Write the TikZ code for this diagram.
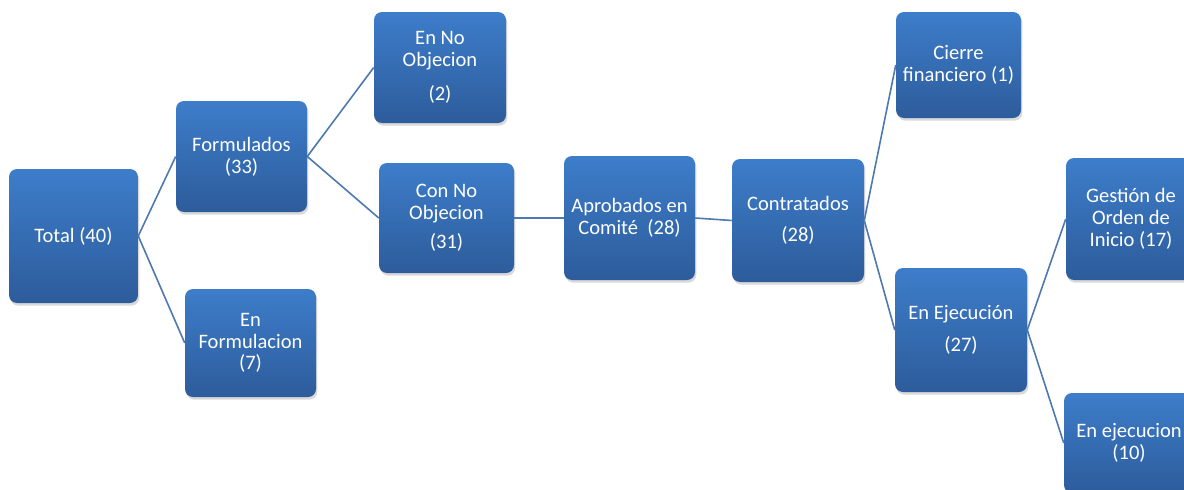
\documentclass[tikz,border=0pt]{standalone}
\usepackage{fontspec}
\setmainfont{Carlito}
\usetikzlibrary{shadows}
\definecolor{boxtop}{HTML}{3D7DCA}
\definecolor{boxbot}{HTML}{2D5C9B}
\definecolor{linkblue}{HTML}{4E79AE}

\begin{document}
\begin{tikzpicture}
[x=0.75pt,y=-0.75pt,%
  every node/.style={rectangle,rounded corners=6pt,inner sep=0pt,align=center,
    top color=boxtop,bottom color=boxbot,text=white,
    drop shadow={opacity=0.3,shadow xshift=1pt,shadow yshift=-2pt}},%
  size/.style 2 args={minimum width=#1*0.75pt,minimum height=#2*0.75pt},%
  link/.style={draw=linkblue,line width=1.2pt}]
\fontsize{15.4pt}{16.3pt}\selectfont
\useasboundingbox (0,0) rectangle (1184,489);

% first level
\node[size={129}{134}] (total)  at (73.5,236)  {Total (40)};
\node[size={131}{111}] (form)   at (241.5,156.5) {Formulados\\(33)};
\node[size={131}{108}] (enform) at (250.5,343) {En\\Formulacion\\(7)};

% no objecion
\node[size={132}{111}] (enno)   at (440,67.5)  {En No\\Objecion\\[9pt](2)};
\node[size={135}{110}] (conno)  at (446.5,218) {Con No\\Objecion\\[6pt](31)};

% approved and signed
\node[size={131}{124}] (aprob)  at (629.5,218) {Aprobados en\\Comité\ \ (28)};
\node[size={132}{123}] (contr)  at (798,220.5) {Contratados\\[7pt](28)};
\node[size={125}{106}] (cierre) at (958.5,65)  {Cierre\\financiero (1)};
\node[size={132}{124}] (ejec)   at (961,330)   {En Ejecución\\[8pt](27)};

% last level
\node[size={130}{122}] (orden)  at (1131,219)  {Gestión de\\Orden de\\Inicio (17)};
\node[size={130}{100}] (curso)  at (1129,443)  {En ejecucion\\(10)};

\draw[link] (total.east) -- (form.west);
\draw[link] (total.east) -- (enform.west);
\draw[link] (form.east) -- (enno.west);
\draw[link] (form.east) -- (conno.west);
\draw[link] (conno.east) -- (aprob.west);
\draw[link] (aprob.east) -- (contr.west);
\draw[link] (contr.east) -- (cierre.west);
\draw[link] (contr.east) -- (ejec.west);
\draw[link] (ejec.east) -- (orden.west);
\draw[link] (ejec.east) -- (curso.west);
\end{tikzpicture}
\end{document}
